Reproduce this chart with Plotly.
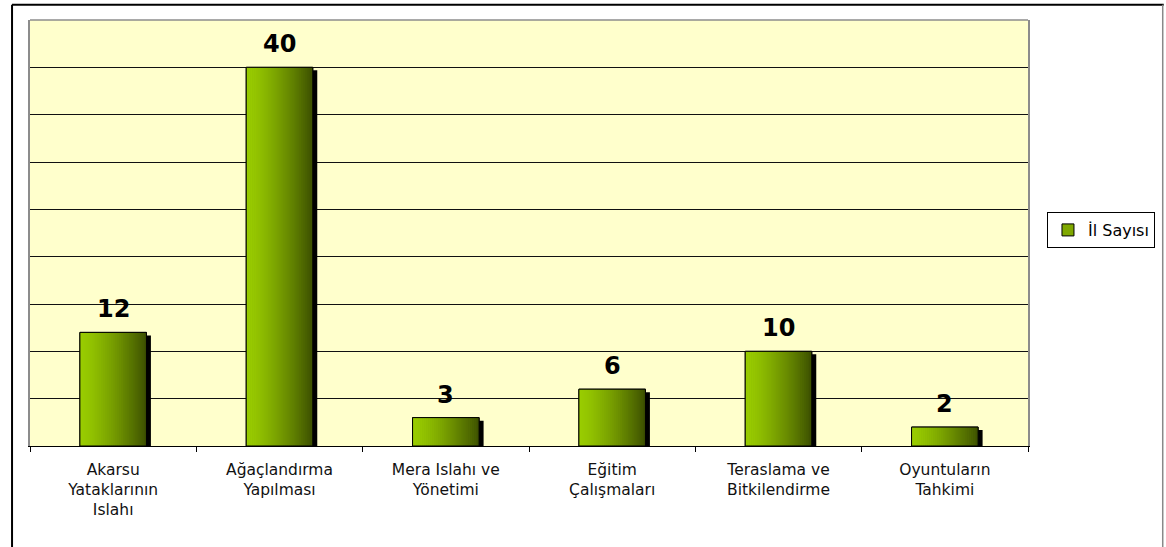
import plotly.graph_objects as go

# Kategoriler ve il sayıları
categories = [
    "Akarsu<br>Yataklarının<br>Islahı",
    "Ağaçlandırma<br>Yapılması",
    "Mera Islahı ve<br>Yönetimi",
    "Eğitim<br>Çalışmaları",
    "Teraslama ve<br>Bitkilendirme",
    "Oyuntuların<br>Tahkimi",
]
il_sayisi = [12, 40, 3, 6, 10, 2]
series_name = "İl Sayısı"

BAR_W = 0.40
LIGHT = (153, 204, 0)
DARK = (62, 82, 0)
N_SLICES = 34

fig = go.Figure()

# gölge (sağa ve aşağı kaydırılmış siyah çubuk)
fig.add_trace(go.Bar(
    x=categories, y=il_sayisi, base=-0.32,
    offset=-BAR_W / 2 + 0.027, width=BAR_W,
    marker=dict(color="black", line=dict(width=0)),
    showlegend=False, hoverinfo="skip",
))

# lejant için düz dolgulu taban çubuk
fig.add_trace(go.Bar(
    x=categories, y=il_sayisi, name=series_name,
    offset=-BAR_W / 2, width=BAR_W,
    marker=dict(color="#7FA800", line=dict(color="black", width=1)),
    showlegend=True,
))

# yatay renk geçişi: dilimler halinde
w = BAR_W / N_SLICES
for i in range(N_SLICES):
    t = i / (N_SLICES - 1)
    t = t ** 1.35
    c = tuple(round(LIGHT[k] + (DARK[k] - LIGHT[k]) * t) for k in range(3))
    fig.add_trace(go.Bar(
        x=categories, y=il_sayisi,
        offset=-BAR_W / 2 + i * w, width=w * 1.25 if i < N_SLICES - 1 else w,
        marker=dict(color="rgb(%d,%d,%d)" % c, line=dict(width=0)),
        showlegend=False, hoverinfo="skip",
    ))

# dış çerçeve
fig.add_trace(go.Bar(
    x=categories, y=il_sayisi,
    offset=-BAR_W / 2, width=BAR_W,
    marker=dict(color="rgba(0,0,0,0)", line=dict(color="black", width=1)),
    showlegend=False, hoverinfo="skip",
))

annotations = [
    dict(x=c, y=v, text=str(v), showarrow=False, xref="x", yref="y",
         yanchor="bottom", yshift=7,
         font=dict(family="DejaVu Sans", size=24, color="black", weight="bold"))
    for c, v in zip(categories, il_sayisi)
]

shapes = [
    # çizim alanının üst kenarı
    dict(type="line", xref="paper", yref="paper", x0=0, x1=1, y0=1, y1=1,
         line=dict(color="#8c8c8c", width=1.5), layer="above"),
    # grafik çerçevesi
    dict(type="line", xref="paper", yref="paper", x0=-0.018, x1=-0.018, y0=1.036, y1=-0.26,
         line=dict(color="black", width=2)),
    dict(type="line", xref="paper", yref="paper", x0=-0.018, x1=1.136, y0=1.036, y1=1.036,
         line=dict(color="black", width=2)),
    dict(type="line", xref="paper", yref="paper", x0=1.135, x1=1.135, y0=1.036, y1=-0.26,
         line=dict(color="#888888", width=1.5)),
]

fig.update_layout(
    width=1166, height=547,
    margin=dict(l=30, r=137, t=20, b=101),
    paper_bgcolor="white",
    plot_bgcolor="#FFFFCC",
    barmode="overlay",
    font=dict(family="DejaVu Sans", color="black"),
    annotations=annotations,
    shapes=shapes,
    legend=dict(
        x=1.018, y=0.507, xanchor="left", yanchor="middle",
        bgcolor="white", bordercolor="black", borderwidth=1,
        font=dict(family="DejaVu Sans", size=16, color="black"),
        itemwidth=30,
    ),
    xaxis=dict(
        range=[-0.5, 5.5], tickson="boundaries", ticks="outside", ticklen=5,
        tickcolor="black", tickwidth=1, showline=True, linecolor="black", linewidth=1,
        showgrid=False, tickfont=dict(family="DejaVu Sans", size=15.5, color="#111111"),
        ticklabelstandoff=9, fixedrange=True,
    ),
    yaxis=dict(
        range=[0, 45], dtick=5, showticklabels=False, ticks="",
        showgrid=True, gridcolor="#111111", gridwidth=1, zeroline=False,
        showline=True, linecolor="#8c8c8c", linewidth=1.5, mirror=True,
        fixedrange=True,
    ),
)

fig.write_html("out.html")
